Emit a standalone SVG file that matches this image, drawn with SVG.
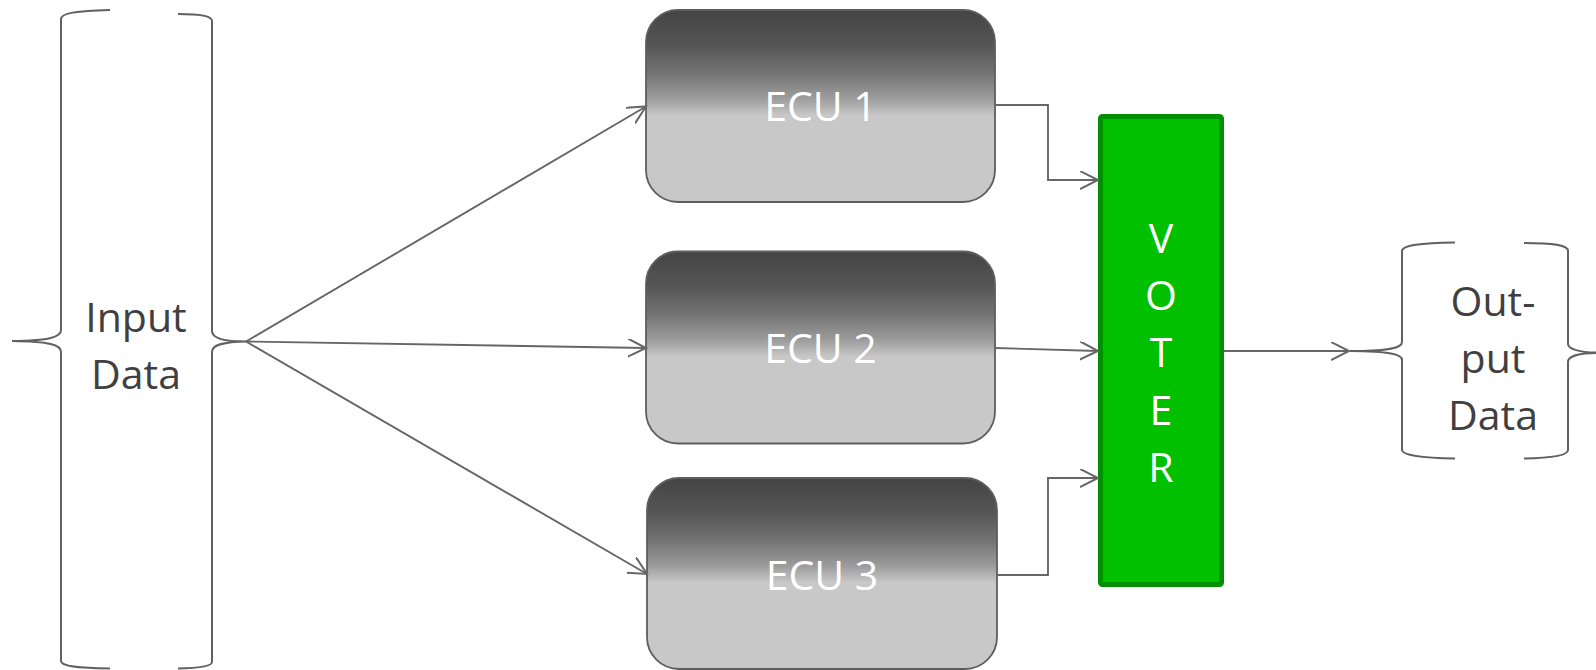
<svg xmlns="http://www.w3.org/2000/svg" width="1596" height="670" viewBox="0 0 1596 670">
  <style>
    .brace { fill: none; stroke: #616161; stroke-width: 2; }
    .wire { fill: none; stroke: #666666; stroke-width: 1.9; }
    .ecu { stroke: #5e5e5e; stroke-width: 1.8; fill: url(#ecuFill); }
    .lbl { font-family: "Open Sans", "Liberation Sans", sans-serif; font-size: 41px; text-anchor: middle; }
    .dark { fill: #404040; }
    .light { fill: #ffffff; }
  </style>
  <defs>
    <linearGradient id="ecuFill" x1="0" y1="0" x2="0" y2="1">
      <stop offset="0" stop-color="#444444"/>
      <stop offset="0.18" stop-color="#555555"/>
      <stop offset="0.33" stop-color="#747474"/>
      <stop offset="0.46" stop-color="#9c9c9c"/>
      <stop offset="0.55" stop-color="#c8c8c8"/>
      <stop offset="1" stop-color="#c8c8c8"/>
    </linearGradient>
    <marker id="open" markerUnits="userSpaceOnUse" markerWidth="22" markerHeight="22" refX="18" refY="9" orient="auto" viewBox="0 0 22 22">
      <path d="M0,0 L18,9 L0,18" fill="none" stroke="#666666" stroke-width="2"/>
    </marker>
  </defs>

  <g id="input-data">
    <path class="brace" d="M110,10 C76,11 61,13 61,19 L61,330 C61,337 50,340.5 12,341 C50,341.5 61,345 61,352 L61,661 C61,666 76,668 110,668.5"/>
    <path class="brace" d="M178,14 C201,14 212,16 212,21 L212,331 C212,338 222,341.5 246,341.5 C222,342 212,345 212,352 L212,662 C212,666 201,668 178,668.5"/>
    <text class="lbl dark" x="136" y="332">Input</text>
    <text class="lbl dark" x="136" y="389">Data</text>
  </g>

  <g id="ecu1">
    <rect class="ecu" x="646" y="10" width="349" height="192" rx="32"/>
    <text class="lbl light" x="820.5" y="121">ECU 1</text>
  </g>

  <g id="ecu2">
    <rect class="ecu" x="646" y="251.5" width="349" height="192" rx="32"/>
    <text class="lbl light" x="820.5" y="363">ECU 2</text>
  </g>

  <g id="ecu3">
    <rect class="ecu" x="647" y="478" width="350" height="191" rx="32"/>
    <text class="lbl light" x="822" y="590">ECU 3</text>
  </g>

  <g id="voter">
    <rect x="1100.5" y="116.5" width="121" height="468" rx="2" fill="#00c000" stroke="#008f00" stroke-width="5"/>
    <text class="lbl light" x="1161" y="253">V</text>
    <text class="lbl light" x="1161" y="310">O</text>
    <text class="lbl light" x="1161" y="367">T</text>
    <text class="lbl light" x="1161" y="425">E</text>
    <text class="lbl light" x="1161" y="482">R</text>
  </g>

  <g id="output-data">
    <path class="brace" d="M1455,242.5 C1421,243 1402,245 1402,251 L1402,342 C1402,348 1390,351 1350,351 C1390,351.5 1402,354 1402,360 L1402,450 C1402,455 1421,458 1455,458.5"/>
    <path class="brace" d="M1524,243 C1554,243 1568,245 1568,251 L1568,344 C1568,349 1580,352.5 1597,352.5 M1597,353 C1580,353 1568,356 1568,362 L1568,450 C1568,455 1554,458 1524,458.5"/>
    <text class="lbl dark" x="1493" y="316">Out-</text>
    <text class="lbl dark" x="1493" y="373">put</text>
    <text class="lbl dark" x="1493" y="430">Data</text>
  </g>

  <g id="connectors">
    <path class="wire" marker-end="url(#open)" d="M246,341.5 L646,106.5"/>
    <path class="wire" marker-end="url(#open)" d="M246,341.5 L646,348"/>
    <path class="wire" marker-end="url(#open)" d="M246,341.5 L647,574"/>
    <path class="wire" marker-end="url(#open)" d="M995,105 L1048,105 L1048,180 L1098,180"/>
    <path class="wire" marker-end="url(#open)" d="M995,348 L1098,351"/>
    <path class="wire" marker-end="url(#open)" d="M997,575 L1048,575 L1048,478 L1098,478"/>
    <path class="wire" marker-end="url(#open)" d="M1224,351 L1349,351"/>
  </g>
</svg>
